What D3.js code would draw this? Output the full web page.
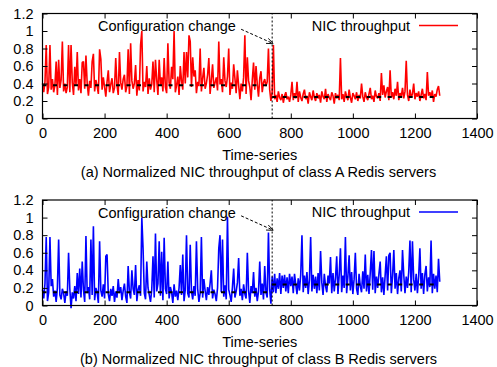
<!DOCTYPE html>
<html><head><meta charset="utf-8">
<script src="https://cdn.jsdelivr.net/npm/d3@7"></script>
<style>
body{margin:0;background:#fff}
svg{display:block}
text{font-family:"Liberation Sans",Arial,Helvetica,sans-serif;fill:#000}
</style>
</head><body>
<svg id="c" width="497" height="367"></svg>
<script>
// ---- data ----
const STEP = 4; // sample spacing on the time-series axis
const xTicks = [0, 200, 400, 600, 800, 1000, 1200, 1400];
const yTicks = [0, 0.2, 0.4, 0.6, 0.8, 1.0, 1.2];
const yTickLabels = ["0", "0.2", "0.4", "0.6", "0.8", "1", "1.2"];
const xLabel = "Time-series";
const legendLabel = "NIC throughput";
const annotation = "Configuration change";
const changePoint = 740;
const arrowFrom = [640, 1.02];
const arrowTo = [744, 0.855];

const captions = [
  "(a) Normalized NIC throughput of class A Redis servers",
  "(b) Normalized NIC throughput of class B Redis servers"
];

const seriesA = [
0.40,0.30,0.42,0.84,0.28,0.36,0.84,0.33,0.45,0.30,0.38,0.65,0.27,0.67,0.35,0.44,0.88,0.31,0.40,0.29,
0.36,0.84,0.30,0.84,0.41,0.27,0.59,0.38,0.76,0.32,0.45,0.29,0.64,0.65,0.34,0.72,0.40,0.26,0.43,0.35,
0.65,0.74,0.31,0.44,0.37,0.28,0.79,0.68,0.33,0.47,0.36,0.25,0.42,0.55,0.30,0.39,0.46,0.29,0.35,0.69,
0.38,0.27,0.76,0.41,0.33,0.45,0.50,0.30,0.37,0.79,0.28,0.86,0.43,0.34,0.40,0.61,0.26,0.44,0.32,0.84,
1.00,0.31,0.42,0.36,0.60,0.28,0.46,0.33,0.39,0.65,0.30,0.67,0.44,0.27,0.67,0.38,0.47,0.31,0.69,0.36,
0.29,0.86,0.41,0.34,0.59,0.45,1.00,0.30,0.38,0.48,0.27,0.60,0.43,0.33,0.76,0.40,0.76,0.47,0.95,0.88,
0.36,0.70,0.48,0.55,0.29,0.42,0.37,0.80,0.31,0.46,0.58,0.34,0.40,0.50,0.69,0.28,0.44,0.62,0.35,0.41,
0.47,0.32,0.88,0.39,0.45,0.30,0.70,0.43,0.36,0.48,0.80,0.27,0.41,0.34,0.62,0.46,0.29,0.55,0.38,0.22,
0.40,0.31,0.47,0.95,0.28,0.70,0.43,0.36,0.21,0.44,0.64,0.33,0.60,0.39,0.25,0.46,0.54,0.30,0.41,0.45,
0.37,0.42,0.80,0.33,0.20,0.30,0.84,0.22,0.27,0.19,0.31,0.24,0.21,0.28,0.18,0.26,0.30,0.22,0.25,0.19,
0.27,0.42,0.21,0.29,0.23,0.42,0.19,0.31,0.24,0.20,0.28,0.33,0.22,0.26,0.17,0.30,0.25,0.21,0.32,0.24,
0.20,0.29,0.23,0.27,0.18,0.31,0.25,0.22,0.34,0.19,0.28,0.24,0.21,0.30,0.26,0.17,0.29,0.23,0.27,0.21,
0.69,0.22,0.28,0.19,0.31,0.25,0.21,0.33,0.24,0.18,0.29,0.26,0.22,0.30,0.20,0.27,0.23,0.40,0.25,0.19,
0.30,0.24,0.21,0.28,0.35,0.22,0.26,0.19,0.32,0.25,0.23,0.29,0.20,0.52,0.27,0.38,0.24,0.31,0.36,0.21,
0.55,0.24,0.30,0.22,0.34,0.26,0.42,0.21,0.29,0.25,0.35,0.23,0.31,0.66,0.27,0.20,0.33,0.24,0.28,0.40,
0.22,0.29,0.25,0.31,0.20,0.27,0.34,0.23,0.28,0.21,0.53,0.26,0.30,0.24,0.32,0.19,0.28,0.25,0.33,0.37,
0.26
];

const seriesB = [
0.18,0.08,0.25,0.78,0.05,0.15,0.78,0.22,0.30,0.10,0.17,0.04,0.20,0.75,0.12,0.07,0.19,0.14,0.03,0.16,
0.11,0.60,0.19,-0.03,0.15,0.08,0.22,0.05,0.37,0.13,0.42,0.09,0.50,0.18,0.04,0.79,0.14,0.21,0.07,0.75,
0.12,0.90,0.06,0.20,0.15,0.03,0.73,0.17,0.10,0.24,0.08,0.56,0.58,0.13,0.05,0.19,0.11,0.22,0.04,0.16,
0.09,0.30,0.14,0.21,0.06,0.17,0.25,0.10,0.03,0.45,0.15,0.08,0.40,0.19,0.12,0.46,0.05,0.18,0.23,0.11,
1.00,0.65,0.14,0.07,0.50,0.20,0.12,0.04,0.18,0.56,0.09,0.82,0.16,0.25,0.73,0.11,0.61,0.06,0.77,0.19,
0.13,0.50,0.08,0.21,0.15,0.03,0.24,0.10,0.17,0.06,0.20,0.46,0.12,0.58,0.05,0.18,0.80,0.14,0.09,0.69,
0.16,0.07,0.22,0.11,0.73,0.19,0.04,0.14,0.78,0.09,0.30,0.17,0.06,0.21,0.12,0.25,0.40,0.08,0.18,0.13,
0.05,0.20,0.65,0.80,0.15,0.75,0.10,0.23,0.07,1.01,0.18,0.12,0.04,0.21,0.42,0.09,0.16,0.26,0.54,0.11,
0.19,0.06,0.24,0.13,0.08,0.60,0.17,0.03,0.22,0.14,0.38,0.10,0.20,0.05,0.16,0.50,0.12,0.25,0.07,0.45,
0.15,0.09,0.83,0.18,0.02,0.33,0.15,0.36,0.14,0.31,0.19,0.37,0.13,0.34,0.20,0.35,0.16,0.32,0.14,0.36,
0.22,0.33,0.14,0.36,0.24,0.13,0.31,0.17,0.35,0.80,0.15,0.34,0.20,0.38,0.13,0.29,0.78,0.16,0.35,0.19,
0.33,0.14,0.37,0.17,0.62,0.26,0.12,0.36,0.22,0.15,0.34,0.25,0.55,0.14,0.37,0.16,0.31,0.56,0.13,0.35,
0.65,0.15,0.34,0.20,0.78,0.14,0.33,0.57,0.17,0.38,0.13,0.30,0.60,0.19,0.12,0.36,0.22,0.15,0.39,0.19,
0.58,0.16,0.35,0.13,0.37,0.63,0.18,0.62,0.14,0.33,0.20,0.36,0.50,0.15,0.32,0.12,0.34,0.56,0.17,0.57,
0.60,0.14,0.34,0.63,0.19,0.37,0.13,0.31,0.40,0.16,0.63,0.35,0.14,0.33,0.20,0.38,0.74,0.15,0.73,0.30,
0.17,0.36,0.14,0.33,0.65,0.19,0.37,0.13,0.35,0.45,0.16,0.32,0.21,0.74,0.14,0.36,0.19,0.34,0.15,0.53,
0.27
];

// mean levels before / after the configuration change: [x0, x1, value]
const meansA = [[0, 740, 0.38], [740, 1280, 0.245]];
const meansB = [[0, 740, 0.15], [740, 1280, 0.24]];

// ---- drawing ----
const FONT = 14.5;
const svg = d3.select("#c");
const x = d3.scaleLinear().domain([0, 1400]).range([42.5, 477]);

const panels = [
  {data: seriesA, means: meansA, color: "#ff0000", caption: captions[0], y0: 118.5, y1: 13.5},
  {data: seriesB, means: meansB, color: "#0000ff", caption: captions[1], y0: 305.5, y1: 200}
];

svg.append("defs").append("marker")
  .attr("id", "ah").attr("viewBox", "0 0 10 10").attr("refX", 10).attr("refY", 5)
  .attr("markerWidth", 7).attr("markerHeight", 7).attr("markerUnits", "userSpaceOnUse")
  .attr("orient", "auto")
  .append("path").attr("d", "M0,1 L10,5 L0,9").attr("fill", "none").attr("stroke", "#000").attr("stroke-width", 1.2);

panels.forEach(p => {
  const y = d3.scaleLinear().domain([0, 1.2]).range([p.y0, p.y1]);
  const g = svg.append("g");

  // series
  const line = d3.line().x((d, i) => x(i * STEP)).y(d => y(d));
  g.append("path").datum(p.data).attr("d", line)
    .attr("fill", "none").attr("stroke", p.color).attr("stroke-width", 1.6)
    .attr("stroke-linejoin", "bevel");

  // mean lines
  g.selectAll("line.mean").data(p.means).join("line").attr("class", "mean")
    .attr("x1", d => x(d[0])).attr("x2", d => x(d[1]))
    .attr("y1", d => y(d[2])).attr("y2", d => y(d[2]))
    .attr("stroke", "#000").attr("stroke-width", 2).attr("stroke-dasharray", "4,6.5");

  // vertical change line
  g.append("line").attr("x1", x(changePoint)).attr("x2", x(changePoint))
    .attr("y1", y(0)).attr("y2", y(1.2))
    .attr("stroke", "#000").attr("stroke-width", 1).attr("stroke-dasharray", "2,2");

  // axes (inward ticks, mirrored)
  const styleAxis = sel => {
    sel.select(".domain").remove();
    sel.selectAll(".tick line").attr("stroke", "#000").attr("stroke-width", 1);
    sel.selectAll(".tick text").attr("font-size", FONT).attr("font-family", null).attr("fill", "#000");
  };
  g.append("g").attr("transform", `translate(0,${p.y0})`)
    .call(d3.axisBottom(x).tickValues(xTicks).tickFormat(d3.format("d")).tickSizeInner(-5).tickSizeOuter(0).tickPadding(9.5))
    .call(styleAxis);
  g.append("g").attr("transform", `translate(0,${p.y1})`)
    .call(d3.axisTop(x).tickValues(xTicks).tickFormat("").tickSizeInner(-5).tickSizeOuter(0))
    .call(styleAxis);
  g.append("g").attr("transform", `translate(${x(0)},0)`)
    .call(d3.axisLeft(y).tickValues(yTicks).tickFormat((d, i) => yTickLabels[i]).tickSizeInner(-5).tickSizeOuter(0).tickPadding(9))
    .call(styleAxis);
  g.append("g").attr("transform", `translate(${x(1400)},0)`)
    .call(d3.axisRight(y).tickValues(yTicks).tickFormat("").tickSizeInner(-5).tickSizeOuter(0))
    .call(styleAxis);

  // frame
  g.append("rect").attr("x", x(0)).attr("y", p.y1)
    .attr("width", x(1400) - x(0)).attr("height", p.y0 - p.y1)
    .attr("fill", "none").attr("stroke", "#000").attr("stroke-width", 1.2);

  // annotation + arrow
  g.append("text").attr("x", 98).attr("y", y(1.2) + 17.5).attr("font-size", FONT).text(annotation);
  g.append("line")
    .attr("x1", x(arrowFrom[0])).attr("y1", y(arrowFrom[1]))
    .attr("x2", x(arrowTo[0])).attr("y2", y(arrowTo[1]))
    .attr("stroke", "#000").attr("stroke-width", 1).attr("stroke-dasharray", "3,2")
    .attr("marker-end", "url(#ah)");

  // legend
  const ly = y(1.2) + 12;
  g.append("text").attr("x", 410).attr("y", ly + 5).attr("text-anchor", "end")
    .attr("font-size", FONT).text(legendLabel);
  g.append("line").attr("x1", 419).attr("x2", 458).attr("y1", ly).attr("y2", ly)
    .attr("stroke", p.color).attr("stroke-width", 1.3);

  // axis label and caption
  g.append("text").attr("x", (x(0) + x(1400)) / 2).attr("y", p.y0 + 41.5)
    .attr("text-anchor", "middle").attr("font-size", FONT).text(xLabel);
  g.append("text").attr("x", 258.5).attr("y", p.y0 + 58)
    .attr("text-anchor", "middle").attr("font-size", FONT).text(p.caption);
});
</script>
</body></html>
